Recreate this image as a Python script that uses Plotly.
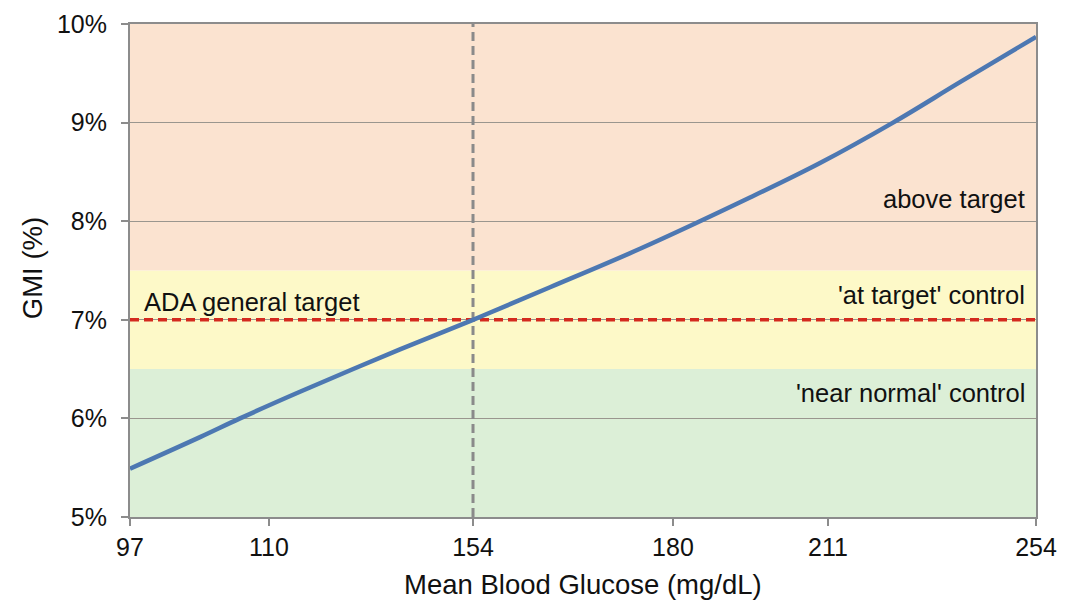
import plotly.graph_objects as go

# ---- data ----
tick_labels = ["97", "110", "154", "180", "211", "254"]
tick_pos = [0, 15.34, 37.86, 59.93, 77.04, 100]          # position along the glucose axis (% of width)
curve_pos = [0, 7.73, 12.14, 18.76, 29.80, 37.86, 46.36, 56.29, 68.43, 76.16, 84.22, 91.61, 100]
curve_gmi = [5.49, 5.81, 6.00, 6.27, 6.70, 7.00, 7.33, 7.72, 8.24, 8.59, 9.00, 9.41, 9.87]
gmi_ticks = [5, 6, 7, 8, 9, 10]
gmi_tick_labels = ["5%", "6%", "7%", "8%", "9%", "10%"]
ada_target_gmi = 7.0
ada_target_glucose_pos = 37.86
band_names = ["'near normal' control", "'at target' control", "above target"]
band_low = [5.0, 6.5, 7.5]
band_high = [6.5, 7.5, 10.0]
band_label_gmi = [6.26, 7.25, 8.225]
band_colors = ["#dcefd7", "#fdf9c8", "#fbe3d0"]
x_title = "Mean Blood Glucose (mg/dL)"
y_title = "GMI (%)"

FONT = "Liberation Sans, Arial, sans-serif"

fig = go.Figure()

# vertical dashed marker at 154
fig.add_trace(go.Scatter(x=[ada_target_glucose_pos, ada_target_glucose_pos], y=[5, 10], mode="lines",
                         line=dict(color="#8a8a8a", width=3, dash="9px,5px"), hoverinfo="skip", showlegend=False))
# ADA target line
fig.add_trace(go.Scatter(x=[0, 100], y=[ada_target_gmi, ada_target_gmi], mode="lines",
                         line=dict(color="#d42a1e", width=3.5, dash="9px,5px"), hoverinfo="skip", showlegend=False))
# GMI curve
fig.add_trace(go.Scatter(x=curve_pos, y=curve_gmi, mode="lines", line_shape="spline",
                         line=dict(color="#4d78b2", width=4.5), showlegend=False))

shapes = []
for lo, hi, c in zip(band_low, band_high, band_colors):
    shapes.append(dict(type="rect", xref="x", yref="y", x0=0, x1=100, y0=lo, y1=hi,
                       fillcolor=c, line=dict(width=0), layer="below"))

annotations = [dict(x=1.3, y=7.18, xref="x", yref="y", text="ADA general target", showarrow=False,
                    xanchor="left", yanchor="middle", font=dict(family=FONT, size=25.5, color="#111"))]
for name, yy in zip(band_names, band_label_gmi):
    annotations.append(dict(x=99.0, y=yy, xref="x", yref="y", text=name, showarrow=False,
                            xanchor="right", yanchor="middle", font=dict(family=FONT, size=25.5, color="#111")))
# axis titles
annotations.append(dict(x=0.5, y=-0.136, xref="paper", yref="paper", text=x_title, showarrow=False,
                        xanchor="center", yanchor="middle", font=dict(family=FONT, size=27.5, color="#111")))
annotations.append(dict(x=-0.108, y=0.505, xref="paper", yref="paper", text=y_title, showarrow=False,
                        textangle=-90, xanchor="center", yanchor="middle",
                        font=dict(family=FONT, size=27.5, color="#111")))

fig.update_layout(
    width=1068, height=601,
    margin=dict(l=130, r=32, t=24, b=84),
    paper_bgcolor="white", plot_bgcolor="rgba(0,0,0,0)",
    shapes=shapes, annotations=annotations,
    font=dict(family=FONT, color="#111"),
)
fig.update_xaxes(range=[0, 100], tickvals=tick_pos, ticktext=tick_labels, automargin=False,
                 showgrid=False, zeroline=False, showline=True, linecolor="#8c8c8c", linewidth=2, mirror=True,
                 ticks="outside", ticklen=7, tickwidth=1.5, tickcolor="#8c8c8c",
                 tickfont=dict(family=FONT, size=25, color="#111"))
fig.update_yaxes(range=[5, 10], tickvals=gmi_ticks, ticktext=gmi_tick_labels, automargin=False,
                 showgrid=True, gridcolor="#9a968e", gridwidth=1.2, zeroline=False,
                 showline=True, linecolor="#8c8c8c", linewidth=2, mirror=True,
                 ticks="outside", ticklen=7, tickwidth=1.5, tickcolor="#8c8c8c", ticklabelstandoff=9,
                 tickfont=dict(family=FONT, size=25, color="#111"))

fig.write_html("out.html")
